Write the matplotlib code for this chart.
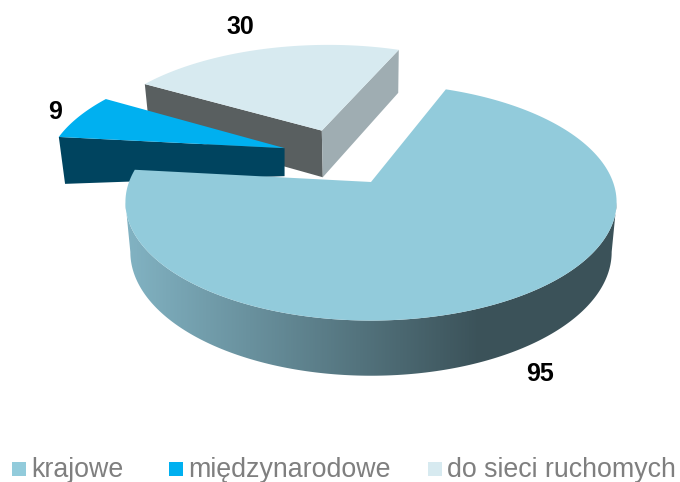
import numpy as np
import matplotlib
matplotlib.use("Agg")
import matplotlib.pyplot as plt
from matplotlib.colors import LinearSegmentedColormap
from matplotlib.patches import Polygon, Rectangle

plt.rcParams["font.family"] = ["Liberation Sans", "DejaVu Sans"]

# Data
categories = ["krajowe", "międzynarodowe", "do sieci ruchomych"]
values = [95, 9, 30]

top_colors = ["#92CBDB", "#00B0F0", "#D7EAF0"]

# Pie geometry in pixels, perspective applied by hand
cx, cy = 371, 182
R, Rk, p = 242, 115, 0.17
start_angle = 69
explode = [(0.0, 0.0), (-0.376, 0.31), (-0.22, 0.4835)]
rim_scale = [1.0, 1.012, 1.012]


def project(theta, off=(0, 0), scale=1.0):
    t = np.radians(theta)
    u = scale * np.cos(t) + off[0]
    v = scale * np.sin(t) + off[1]
    s = 1 / (1 + p * v)
    return cx + R * u * s, cy - Rk * v * s


def lower(x, y, depth=None):
    # same point on the bottom plane of the pie
    if depth is None:
        depth = 43 + (y - 50) * 0.045
    return cx + (x - cx) * 0.98, y + depth


fig = plt.figure(figsize=(6.8, 4.82), dpi=100)
ax = fig.add_axes([0, 0, 1, 1])

# Slice angles, clockwise from the start
sweep = np.array(values) / sum(values) * 360
ends = start_angle - np.cumsum(sweep)
starts = ends + sweep


def top_outline(i):
    th = np.linspace(starts[i], ends[i], 200)
    x, y = project(th, explode[i], rim_scale[i])
    ax_, ay_ = project(0, explode[i], scale=0)
    return np.r_[x, ax_], np.r_[y, ay_]


def wall(i, theta, color, apex_depth=None):
    x0, y0 = project(theta, explode[i], rim_scale[i])
    x1, y1 = project(0, explode[i], scale=0)
    bx0, by0 = lower(x0, y0)
    bx1, by1 = lower(x1, y1, apex_depth)
    if apex_depth is not None:
        bx1 = x1
    ax.add_patch(Polygon([(x0, y0), (x1, y1), (bx1, by1), (bx0, by0)],
                         closed=True, fc=color, ec="none", zorder=z[i]))


z = {2: 1, 1: 3, 0: 5}

# do sieci ruchomych
wall(2, ends[2] + sweep[2], "#595F60")
wall(2, ends[2], "#9FADB2")
x, y = top_outline(2)
ax.fill(x, y, color=top_colors[2], lw=0, zorder=2)

# miedzynarodowe
wall(1, starts[1], "#00445F", apex_depth=28)
x, y = top_outline(1)
ax.fill(x, y, color=top_colors[1], lw=0, zorder=4)

# krajowe: side with a gradient, only the front half between the widest points
edge = np.degrees(np.arcsin(p))
th = np.linspace(180 + edge, 360 - edge, 400)
rx, ry = project(th)
bx, by = lower(rx, ry)
side = Polygon(np.c_[np.r_[rx, bx[::-1]], np.r_[ry, by[::-1]]], closed=True,
               fc="none", ec="none", transform=ax.transData)
ax.add_patch(side)
cmap = LinearSegmentedColormap.from_list("side", ["#82B3C3", "#3B5259"])
grad = np.clip((np.arange(680) - 125) / (480 - 125), 0, 1)[None, :]
im = ax.imshow(grad, cmap=cmap, extent=(0, 680, 482, 0), aspect="auto", zorder=5)
im.set_clip_path(side)
x, y = top_outline(0)
ax.fill(x, y, color=top_colors[0], lw=0, zorder=6)

# Value labels
label_pos = [(540, 374), (55, 112), (240, 27)]
for v, (lx, ly) in zip(values, label_pos):
    ax.text(lx, ly, str(v), fontsize=18, fontweight="bold", color="black",
            ha="center", va="center", zorder=7)

# Legend, the gaps in the original are uneven so it is placed by hand
legend_x = [12, 169, 428]
for name, c, lx in zip(categories, top_colors, legend_x):
    ax.add_patch(Rectangle((lx, 462), 14, 14, fc=c, ec="none"))
    ax.text(lx + 19, 477, name, fontsize=19.3, color="#7F7F7F", ha="left",
            va="baseline")

ax.set_xlim(0, 680)
ax.set_ylim(482, 0)
ax.axis("off")

fig.savefig("out.png", dpi=100)
